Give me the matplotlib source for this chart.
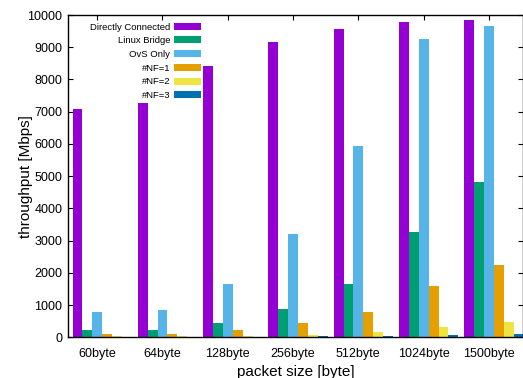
import numpy as np
import matplotlib
matplotlib.use("Agg")
import matplotlib.pyplot as plt

plt.rcParams['font.family'] = ['Liberation Sans', 'DejaVu Sans']

# packet sizes on the x axis
packet_sizes = ["60byte", "64byte", "128byte", "256byte", "512byte", "1024byte", "1500byte"]

# throughput in Mbps
direct = [7070, 7270, 8425, 9150, 9565, 9780, 9845]
linux_bridge = [215, 220, 442, 878, 1655, 3270, 4823]
ovs_only = [785, 846, 1655, 3190, 5931, 9264, 9668]
nf1 = [100, 112, 225, 442, 795, 1593, 2258]
nf2 = [35, 30, 40, 70, 165, 320, 475]
nf3 = [8, 8, 10, 30, 40, 70, 100]

series = [
    ("Directly Connected", direct, "#9400D3"),
    ("Linux Bridge", linux_bridge, "#009E73"),
    ("OvS Only", ovs_only, "#56B4E9"),
    ("#NF=1", nf1, "#E69F00"),
    ("#NF=2", nf2, "#F0E442"),
    ("#NF=3", nf3, "#0072B2"),
]

fig = plt.figure(figsize=(5.23, 3.78), dpi=100)
ax = fig.add_axes([68 / 523, 1 - 337.3 / 378, 455 / 523, (337.3 - 15) / 378])

x = np.arange(len(packet_sizes))
bar_w = 0.1517
start = -0.378
for j, (label, vals, color) in enumerate(series):
    ax.bar(x + start + j * bar_w, vals, width=bar_w, align="edge",
           color=color, edgecolor="none", label=label, zorder=2)

ax.set_xlim(-0.447, 6.523)
ax.set_ylim(0, 10000)
ax.set_xticks(x)
ax.set_xticklabels(packet_sizes)
ax.set_yticks(np.arange(0, 10001, 1000))

ax.tick_params(direction="in", length=3.5, width=0.8, top=True, right=True,
               labelsize=9, pad=4)
ax.tick_params(axis="x", pad=8)
for s in ax.spines.values():
    s.set_linewidth(1.0)

ax.set_xlabel("packet size [byte]", fontsize=11, labelpad=3)
ax.set_ylabel("throughput [Mbps]", fontsize=11, labelpad=-4)

leg = ax.legend(loc="upper right", bbox_to_anchor=(201 / 523, 1 - 22.5 / 378),
                bbox_transform=fig.transFigure, frameon=False, markerfirst=False,
                fontsize=6.8, handlelength=2.85, handleheight=0.77,
                handletextpad=0.42, labelspacing=0.5, borderpad=0, borderaxespad=0)
for t in leg.get_texts():
    t.set_ha("right")

fig.savefig("out.png", dpi=100)
